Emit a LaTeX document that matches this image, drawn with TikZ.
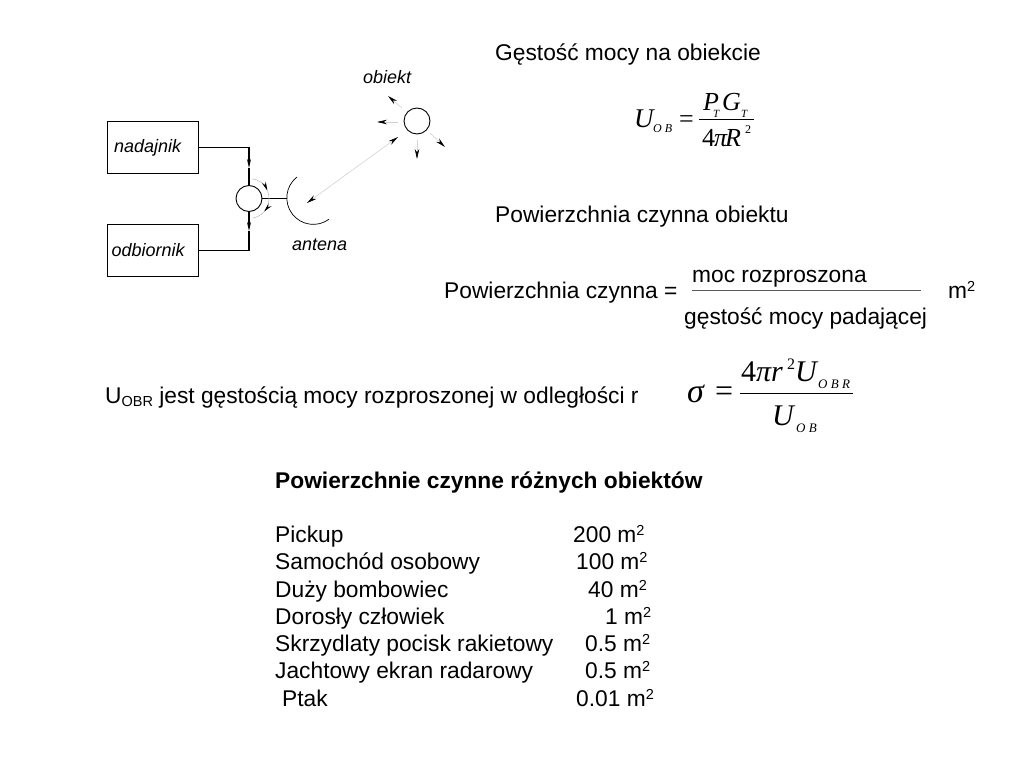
\documentclass[tikz,border=0pt]{standalone}
\usepackage{fontspec}
\setmainfont{Liberation Sans}
\newfontfamily\timesfont{Liberation Serif}
\usetikzlibrary{arrows.meta}

\newcommand{\squared}{\raisebox{7pt}{\fontsize{14.5}{14.5}\selectfont 2}}
\newcommand{\lowOBR}{\raisebox{-3pt}{\fontsize{14.5}{14.5}\selectfont OBR}}

\tikzset{
    txt/.style={anchor=base west, inner sep=0pt, font=\fontsize{22.75}{27}\selectfont},
    boldtxt/.style={txt, font=\fontsize{22.75}{27}\selectfont\bfseries},
    ital/.style={txt, font=\fontsize{18}{21}\selectfont\itshape},
    unitbox/.style={draw, anchor=north west, minimum width=91pt, minimum height=52pt,
        text width=83pt, inner xsep=4pt, inner ysep=0pt, align=left, line width=1pt,
        font=\fontsize{18}{21}\selectfont\itshape},
    port/.style={draw, circle, inner sep=0pt, minimum size=26pt, line width=0.9pt},
    wire/.style={line width=1.1pt},
    wiretip/.style={wire, -{Stealth[length=9pt,width=4pt]}},
    ray/.style={draw=gray!35, line width=0.6pt, -{Stealth[length=10pt,width=4.5pt,black]}},
    echo/.style={draw=gray!35, line width=0.6pt, {Stealth[length=10pt,width=4.5pt,black]}-{Stealth[length=10pt,width=4.5pt,black]}},
    swing/.style={draw=gray!50, line width=0.6pt},
    swingtip/.style={swing, -{Stealth[length=9pt,width=4pt,black]}},
    frm/.style={anchor=base west, inner sep=0pt, font=\timesfont\fontsize{#1}{#1}\selectfont},
    frmi/.style={anchor=base west, inner sep=0pt, font=\timesfont\itshape\fontsize{#1}{#1}\selectfont},
    bar/.style={line width=0.9pt}
}

\begin{document}
\begin{tikzpicture}[x=1pt,y=-1pt]
    \useasboundingbox (0,0) rectangle (1024,768);

    % Blocks on the left
    \node[unitbox] (nadajnik) at (107,121) {\hspace*{2.5pt}nadajnik};
    \node[unitbox] (odbiornik) at (107,224) {odbiornik};
    \node[port] (junction) at (249,198.5) {};
    \node[port] (target) at (417,121) {};
    \node[ital] (obiektLabel) at (363,83) {obiekt};
    \node[ital] (antenaLabel) at (292,250) {antena};

    \coordinate (tipTx) at (249,168);
    \coordinate (tipRx) at (249,231);
    \draw[wiretip] (nadajnik.east) -| (tipTx);
    \draw[wire] (tipTx) -- (junction.north);
    \draw[wiretip] (junction.south) -- (tipRx);
    \draw[wire] (tipRx) |- (odbiornik.east);

    % Antenna dish
    \coordinate (dishFeed) at (287,198.5);
    \draw[wire] (junction.east) -- (dishFeed);
    \draw[line width=0.7pt] (297,177) arc (232:54:26.5);

    % Small arcs round the junction
    \draw[swingtip] (junction.center) ++(-80:20) arc (-80:-23:20);
    \draw[swing] (junction.center) ++(-23:20) arc (-23:10:20);
    \draw[swingtip] (junction.center) ++(10:20) arc (10:41:20);
    \draw[swing] (junction.center) ++(41:20) arc (41:80:20);

    % Rays from the target
    \coordinate (rayA) at (388,96);
    \coordinate (rayB) at (377,122);
    \coordinate (rayC) at (417,159);
    \coordinate (rayD) at (445,147);
    \coordinate (rayStartA) at (402,108);
    \coordinate (rayStartB) at (398,122);
    \coordinate (rayStartC) at (417,140);
    \coordinate (rayStartD) at (430,133);
    \draw[ray] (rayStartA) -- (rayA);
    \draw[ray] (rayStartB) -- (rayB);
    \draw[ray] (rayStartC) -- (rayC);
    \draw[ray] (rayStartD) -- (rayD);
    \coordinate (echoFar) at (398,137);
    \coordinate (echoNear) at (307,203);
    \draw[echo] (echoFar) -- (echoNear);

    % Power density at the target
    \node[txt] (titleA) at (495,60) {Gęstość mocy na obiekcie};
    \node[frmi=27] (fU) at (634,127) {U};
    \node[frmi=12] (fOB) at (653,132) {O B};
    \node[frm=26] (fEq) at (679,127) {=};
    \node[frmi=26] (fP) at (703,110) {P};
    \node[frmi=11] (fPT) at (713,117) {T};
    \node[frmi=26] (fG) at (722,110) {G};
    \node[frmi=11] (fGT) at (741,117) {T};
    \node[frm=26] (fFour) at (702,146) {4};
    \node[frmi=26] (fPi) at (714,146) {π};
    \node[frmi=26] (fR) at (725,146) {R};
    \node[frm=12] (fTwo) at (745,133) {2};
    \coordinate (barAL) at (699,119);
    \coordinate (barAR) at (754,119);
    \draw[bar] (barAL) -- (barAR);

    % Cross section
    \node[txt] (titleB) at (495,222) {Powierzchnia czynna obiektu};
    \node[txt] (csLeft) at (444,298) {Powierzchnia czynna =};
    \node[txt] (csTop) at (692,282) {moc rozproszona};
    \node[txt] (csBottom) at (684,324) {gęstość mocy padającej};
    \node[txt] (csUnit) at (948,298) {m\squared};
    \coordinate (barBL) at (692,290);
    \coordinate (barBR) at (921,290);
    \draw[draw=gray!70!black, line width=0.7pt] (barBL) -- (barBR);

    % Sigma
    \node[txt] (uobr) at (105,403) {U\lowOBR{} jest gęstością mocy rozproszonej w odległości r};
    \node[frmi=34] (sSigma) at (687,402) {σ};
    \node[frm=32] (sEq) at (715,401) {=};
    \node[frm=30] (sFour) at (741,381) {4};
    \node[frmi=30] (sPi) at (756,381) {π};
    \node[frmi=30] (sR) at (771,381) {r};
    \node[frm=16] (sTwo) at (787,369) {2};
    \node[frmi=30] (sU) at (795,381) {U};
    \node[frmi=13] (sOBR) at (818,388) {O B R};
    \node[frmi=30] (sUb) at (772,425) {U};
    \node[frmi=13] (sOB) at (796,432) {O B};
    \coordinate (barCL) at (740,393);
    \coordinate (barCR) at (853,393);
    \draw[bar] (barCL) -- (barCR);

    % Table of cross sections
    \node[boldtxt] (tableTitle) at (275,488) {Powierzchnie czynne różnych obiektów};
    \foreach \rowY/\rowX/\rowName/\valX/\rowVal [count=\i] in {
        542/275/Pickup/573/200,
        569/275/Samochód osobowy/576/100,
        597/275/Duży bombowiec/588/40,
        624/275/Dorosły człowiek/605/1,
        651/275/Skrzydlaty pocisk rakietowy/585/0.5,
        678/275/Jachtowy ekran radarowy/585/0.5,
        706/282/Ptak/576/0.01}
    {
        \node[txt] (name\i) at (\rowX,\rowY) {\rowName};
        \node[txt] (val\i) at (\valX,\rowY) {\rowVal{} m\squared};
    }
\end{tikzpicture}
\end{document}
